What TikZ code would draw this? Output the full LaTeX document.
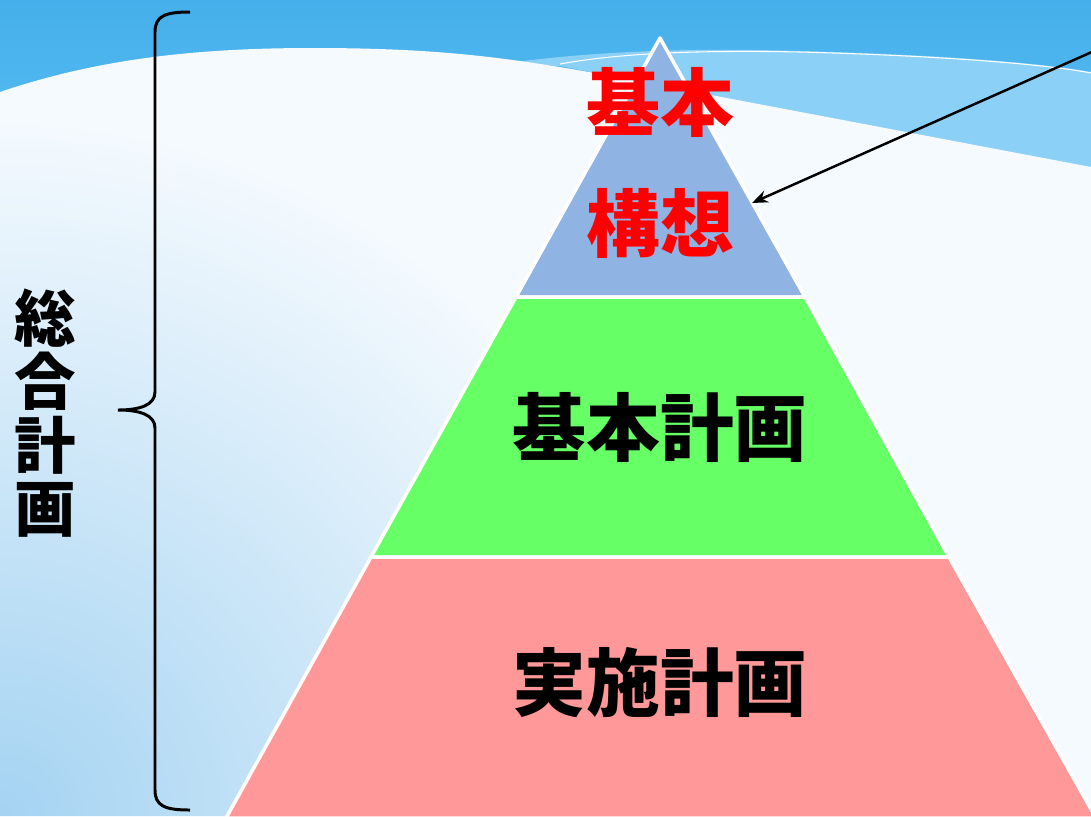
\documentclass[tikz,border=0pt]{standalone}
\usepackage{fontspec}
\newfontfamily\jpfont{Noto Sans CJK JP}
\usetikzlibrary{arrows.meta}
\definecolor{skytop}{HTML}{45AFEB}
\definecolor{skybot}{HTML}{5CC0F3}
\definecolor{band}{HTML}{8BD0F6}
\definecolor{haze}{HTML}{A4D3F2}
\definecolor{paper}{HTML}{F5FAFE}
\definecolor{tierblue}{HTML}{8FB4E3}
\definecolor{tiergreen}{HTML}{66FF66}
\definecolor{tierpink}{HTML}{FF9999}

\begin{document}
\begin{tikzpicture}[x=0.02cm,y=-0.02cm,
  layer/.style={draw=white,line width=2pt,line join=round},
  tiertext/.style={font=\jpfont\bfseries\fontsize{42}{69}\selectfont,align=center},
  sidetext/.style={font=\jpfont\bfseries\fontsize{35}{36}\selectfont,align=center}]
\useasboundingbox (0,0) rectangle (1091,816);
\clip (0,0) rectangle (1091,816);
% background
\shade[top color=skytop,bottom color=skybot] (0,0) rectangle (1091,200);
\fill[band] (500,64) .. controls (600,50) and (700,48) .. (800,51) .. controls (950,55) and (1050,64) .. (1091,72)
  -- (1091,170) -- (560,66) -- cycle;
\draw[white,line width=0.6pt] (560,64) .. controls (620,53) and (700,50) .. (800,52) .. controls (950,56) and (1050,65) .. (1091,73);
\begin{scope}
\path[clip] (0,92) .. controls (100,58) and (200,48) .. (313,48) .. controls (430,48) and (500,56) .. (600,74)
  -- (1091,167) -- (1091,816) -- (0,816) -- cycle;
\fill[paper] (0,40) rectangle (1091,816);
\shade[inner color=haze,outer color=paper] (0,816) circle (700);
\end{scope}
% pyramid
\coordinate (apex) at (660,38);
\coordinate (tl) at (516,297); \coordinate (tr) at (805,297);
\coordinate (ml) at (371,557); \coordinate (mr) at (949,557);
\coordinate (bl) at (226,818); \coordinate (br) at (1096,818);
\filldraw[layer,fill=tierblue] (apex) -- (tr) -- (tl) -- cycle;
\filldraw[layer,fill=tiergreen] (tl) -- (tr) -- (mr) -- (ml) -- cycle;
\filldraw[layer,fill=tierpink] (ml) -- (mr) -- (br) -- (bl) -- cycle;
\node[tiertext,text=red] (vision) at (660,163) {基本\\構想};
\node[tiertext] (basic) at (660,427) {基本計画};
\node[tiertext] (action) at (660,683) {実施計画};
% brace and label
\draw[line width=1.7pt] (190,12) .. controls (165,12) and (155,16) .. (155,32) -- (155,392)
  .. controls (155,405) and (140,410) .. (118,410) .. controls (140,410) and (155,415) .. (155,428)
  -- (155,790) .. controls (155,806) and (165,810) .. (190,810);
\node[sidetext] (overall) at (45,413) {総\\合\\計\\画};
% arrow
\coordinate (pointer) at (1094,51);
\coordinate (hit) at (752,203);
\draw[line width=1.4pt,-{Stealth[length=9pt,width=7pt]}] (pointer) -- (hit);
\end{tikzpicture}
\end{document}
